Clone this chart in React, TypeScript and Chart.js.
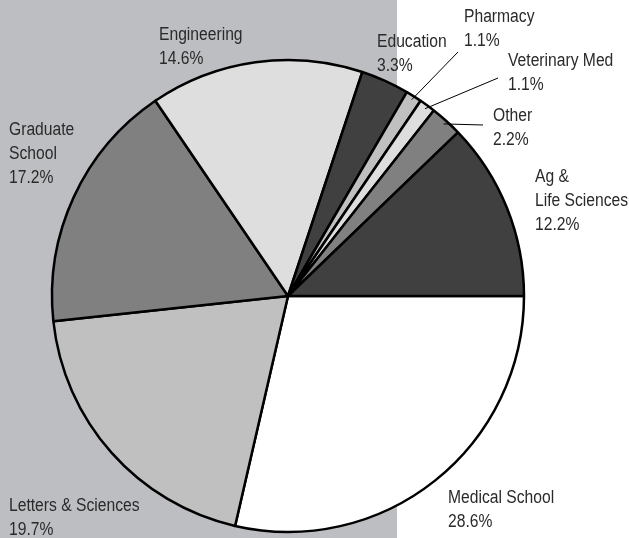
import React, { useEffect, useRef } from "react";
import { Chart, registerables } from "chart.js";

Chart.register(...registerables);

// Data (clockwise from 3 o'clock)
const categories = [
  "Medical School",
  "Letters & Sciences",
  "Graduate School",
  "Engineering",
  "Education",
  "Pharmacy",
  "Veterinary Med",
  "Other",
  "Ag & Life Sciences",
];
const shares = [28.6, 19.7, 17.2, 14.6, 3.3, 1.1, 1.1, 2.2, 12.2];
const labelNames = [
  ["Medical School"],
  ["Letters & Sciences"],
  ["Graduate", "School"],
  ["Engineering"],
  ["Education"],
  ["Pharmacy"],
  ["Veterinary Med"],
  ["Other"],
  ["Ag &", "Life Sciences"],
];
const sliceColors = [
  "#ffffff",
  "#c0c0c0",
  "#808080",
  "#dedede",
  "#404040",
  "#c0c0c0",
  "#dedede",
  "#808080",
  "#404040",
];

// Label layout: text x, first baseline y, optional leader end point
const labelLayout: { x: number; y: number; lead?: [number, number] }[] = [
  { x: 448, y: 503 },
  { x: 9, y: 511 },
  { x: 9, y: 135 },
  { x: 159, y: 40 },
  { x: 377, y: 47 },
  { x: 464, y: 22, lead: [458, 52] },
  { x: 508, y: 66, lead: [498, 78] },
  { x: 493, y: 121, lead: [483, 125] },
  { x: 535, y: 182 },
];

const FONT = "18px 'Liberation Sans', Arial, sans-serif";
const NARROW = 0.87;
const LINE_H = 24;

const decorPlugin = {
  id: "decor",
  beforeDraw(chart: any) {
    const ctx = chart.ctx;
    ctx.save();
    ctx.fillStyle = "#ffffff";
    ctx.fillRect(0, 0, chart.width, chart.height);
    ctx.fillStyle = "#bdbec2";
    ctx.fillRect(0, 0, 397, chart.height);
    ctx.restore();
  },
  afterDraw(chart: any) {
    const ctx = chart.ctx;
    const meta = chart.getDatasetMeta(0);
    ctx.save();
    meta.data.forEach((arc: any, i: number) => {
      const p = arc.getProps(["x", "y", "startAngle", "endAngle", "outerRadius"], true);
      const lay = labelLayout[i];
      if (lay.lead) {
        const mid = (p.startAngle + p.endAngle) / 2;
        const r = p.outerRadius - 4;
        ctx.beginPath();
        ctx.strokeStyle = "#000000";
        ctx.lineWidth = 1;
        ctx.moveTo(p.x + Math.cos(mid) * r, p.y + Math.sin(mid) * r);
        ctx.lineTo(lay.lead[0], lay.lead[1]);
        ctx.stroke();
      }
      ctx.fillStyle = "#2a2a2a";
      ctx.font = FONT;
      ctx.textAlign = "left";
      ctx.textBaseline = "alphabetic";
      const lines = [...labelNames[i], shares[i].toFixed(1) + "%"];
      lines.forEach((t, k) => {
        ctx.save();
        ctx.translate(lay.x, lay.y + k * LINE_H);
        ctx.scale(NARROW, 1);
        ctx.fillText(t, 0, 0);
        ctx.restore();
      });
    });
    ctx.restore();
  },
};

export default function App() {
  const ref = useRef<HTMLCanvasElement | null>(null);
  useEffect(() => {
    document.body.style.margin = "0";
    if (!ref.current) return;
    const chart = new Chart(ref.current, {
      type: "pie",
      data: {
        labels: categories,
        datasets: [
          {
            data: shares,
            backgroundColor: sliceColors,
            borderColor: "#000000",
            borderWidth: 2.5,
          },
        ],
      },
      options: {
        animation: false,
        responsive: false,
        rotation: 90,
        radius: 236,
        layout: { padding: { left: 0, right: 53, top: 54, bottom: 0 } },
        plugins: {
          legend: { display: false },
          tooltip: { enabled: false },
        },
      },
      plugins: [decorPlugin],
    });
    return () => chart.destroy();
  }, []);
  return (
    <div style={{ position: "absolute", left: 0, top: 0, width: 629, height: 538 }}>
      <canvas ref={ref} width={629} height={538} style={{ width: 629, height: 538, display: "block" }} />
    </div>
  );
}
